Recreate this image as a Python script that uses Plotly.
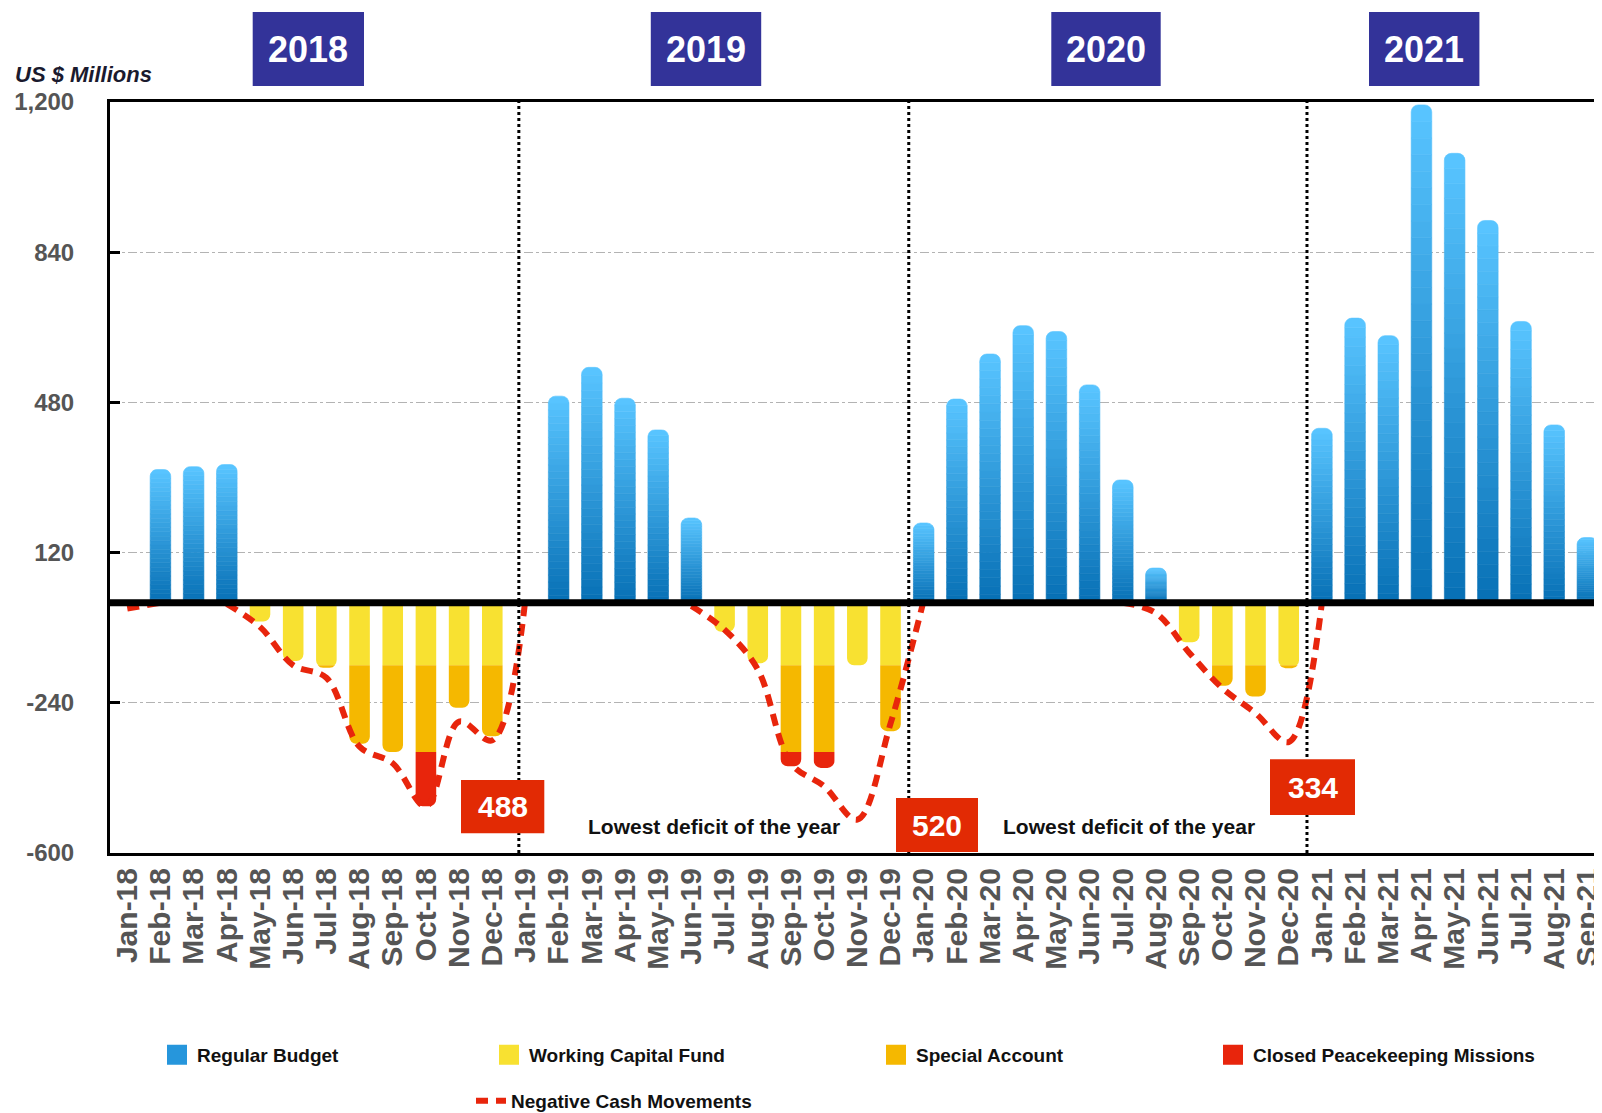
import plotly.graph_objects as go

# ---------------- data ----------------
months = ["Jan-18", "Feb-18", "Mar-18", "Apr-18", "May-18", "Jun-18", "Jul-18", "Aug-18", "Sep-18", "Oct-18", "Nov-18", "Dec-18",
          "Jan-19", "Feb-19", "Mar-19", "Apr-19", "May-19", "Jun-19", "Jul-19", "Aug-19", "Sep-19", "Oct-19", "Nov-19", "Dec-19",
          "Jan-20", "Feb-20", "Mar-20", "Apr-20", "May-20", "Jun-20", "Jul-20", "Aug-20", "Sep-20", "Oct-20", "Nov-20", "Dec-20",
          "Jan-21", "Feb-21", "Mar-21", "Apr-21", "May-21", "Jun-21", "Jul-21", "Aug-21", "Sep-21"]

regular_budget = [0, 319, 326, 331, 0, 0, 0, 0, 0, 0, 0, 0,
                  0, 495, 564, 490, 414, 203, 0, 0, 0, 0, 0, 0,
                  191, 488, 596, 664, 650, 522, 294, 83, 0, 0, 0, 0,
                  418, 682, 640, 1193, 1077, 916, 674, 426, 156]

working_capital_fund = [-8, 0, 0, 0, -45, -140, -150, -150, -150, -150, -150, -150,
                        0, 0, 0, 0, 0, 0, -70, -145, -150, -150, -150, -150,
                        0, 0, 0, 0, 0, 0, 0, 0, -95, -150, -150, -150,
                        0, 0, 0, 0, 0, 0, 0, 0, 0]

special_account = [0, 0, 0, 0, 0, 0, -6, -188, -208, -208, -102, -170,
                   0, 0, 0, 0, 0, 0, 0, 0, -208, -208, 0, -158,
                   0, 0, 0, 0, 0, 0, 0, 0, 0, -49, -75, -7,
                   0, 0, 0, 0, 0, 0, 0, 0, 0]

closed_peacekeeping = [0, 0, 0, 0, 0, 0, 0, 0, 0, -130, 0, 0,
                       0, 0, 0, 0, 0, 0, 0, 0, -34, -38, 0, 0,
                       0, 0, 0, 0, 0, 0, 0, 0, 0, 0, 0, 0,
                       0, 0, 0, 0, 0, 0, 0, 0, 0]

negative_cash = [-14, 0, None, -3, -58, -150, -180, -345, -385, -488, -285, -330,
                 10, None, None, None, None, -8, -65, -160, -385, -440, -520, -290,
                 5, None, None, None, None, None, 0, -25, -120, -205, -265, -334,
                 0, None, None, None, None, None, None, None, None]

years = ["2018", "2019", "2020", "2021"]
lowest_deficits = ["488", "520", "334"]
y_tick_vals = [-600, -240, 120, 480, 840, 1200]
y_tick_text = ["-600", "-240", "120", "480", "840", "1,200"]

# ---------------- layout helpers ----------------
# the page body has an 8px margin, so the figure is drawn 8px smaller and
# all page positions below are converted to plot-paper fractions
OFF = 8
W, H = 1602 - OFF, 1113 - OFF
PLOT_L, PLOT_R, PLOT_T, PLOT_B = 110, 1600, 102, 853      # plot area in page pixels
L, T = PLOT_L - OFF, PLOT_T - OFF
R = W - (PLOT_R - OFF)
B = H - (PLOT_B - OFF)
PW, PH = PLOT_R - PLOT_L, PLOT_B - PLOT_T


def px(x):
    return (x - PLOT_L) / PW


def py(y):
    return (PLOT_B - y) / PH


FONT = "Liberation Sans, Arial, sans-serif"
BLUE_DARK = (8, 113, 182)
BLUE_LIGHT = (88, 196, 255)
BLUE_MID = "rgb(38,150,220)"
YELLOW = "#f8e131"
ORANGE = "#f5b800"
RED = "#e8250c"

fig = go.Figure()

# Regular budget bars drawn as stacked colour bands to give a vertical gradient
N_BANDS = 30
for i in range(N_BANDS):
    t = i / (N_BANDS - 1)
    c = tuple(round(BLUE_DARK[k] + (BLUE_LIGHT[k] - BLUE_DARK[k]) * t) for k in range(3))
    col = "rgb(%d,%d,%d)" % c
    fig.add_bar(
        x=months, y=[v / N_BANDS for v in regular_budget],
        name="Regular Budget", legendgroup="rb", showlegend=False,
        marker=dict(color=col, line=dict(width=0.6, color=col)),
        hoverinfo="skip",
    )

fig.add_bar(x=months, y=working_capital_fund, name="Working Capital Fund", legendgroup="wcf",
            showlegend=False, marker=dict(color=YELLOW, line=dict(width=0)))
fig.add_bar(x=months, y=special_account, name="Special Account", legendgroup="sa",
            showlegend=False, marker=dict(color=ORANGE, line=dict(width=0)))
fig.add_bar(x=months, y=closed_peacekeeping, name="Closed Peacekeeping Missions", legendgroup="cpm",
            showlegend=False, marker=dict(color=RED, line=dict(width=0)))

fig.add_scatter(x=months, y=negative_cash, mode="lines", name="Negative Cash Movements", legend="legend5",
                line=dict(color=RED, width=6, dash="12px,8px", shape="spline", smoothing=1.0),
                connectgaps=False)

# legend swatches (square keys like the reference)
for name, grp, col, leg in (("Regular Budget", "rb", BLUE_MID, "legend"),
                            ("Working Capital Fund", "wcf", YELLOW, "legend2"),
                            ("Special Account", "sa", ORANGE, "legend3"),
                            ("Closed Peacekeeping Missions", "cpm", RED, "legend4")):
    fig.add_scatter(x=[None], y=[None], mode="markers", name=name, legendgroup=grp, legend=leg,
                    marker=dict(symbol="square", size=16, color=col, line=dict(width=4, color=col)),
                    hoverinfo="skip")

shapes = []
# year dividers
for xv in (11.8, 23.55, 35.55):
    shapes.append(dict(type="line", xref="x", yref="paper", x0=xv, x1=xv, y0=0, y1=1,
                       line=dict(color="black", width=3, dash="dot"), layer="above"))
# zero line
shapes.append(dict(type="line", xref="paper", yref="y", x0=0, x1=1, y0=0, y1=0,
                   line=dict(color="black", width=7), layer="above"))

annotations = []
# year boxes
year_boxes = [(252.7, 364), (650.8, 761.2), (1051.3, 1160.7), (1369, 1479.4)]
for yr, (x0, x1) in zip(years, year_boxes):
    shapes.append(dict(type="rect", xref="paper", yref="paper", x0=px(x0), x1=px(x1), y0=py(86), y1=py(12),
                       fillcolor="#333399", line=dict(width=0), layer="above"))
    annotations.append(dict(text=yr, xref="paper", yref="paper", x=px((x0 + x1) / 2), y=py(49),
                            showarrow=False, xanchor="center", yanchor="middle",
                            font=dict(family=FONT, size=36, color="white", weight="bold")))

# lowest deficit boxes
deficit_boxes = [(461, 544.3, 780, 833.3), (896, 978, 798, 852), (1270, 1355, 759.3, 815)]
for txt, (x0, x1, y0, y1) in zip(lowest_deficits, deficit_boxes):
    shapes.append(dict(type="rect", xref="paper", yref="paper", x0=px(x0), x1=px(x1), y0=py(y1), y1=py(y0),
                       fillcolor="#e22a04", line=dict(width=0), layer="above"))
    annotations.append(dict(text=txt, xref="paper", yref="paper", x=px((x0 + x1) / 2), y=py((y0 + y1) / 2),
                            showarrow=False, xanchor="center", yanchor="middle",
                            font=dict(family=FONT, size=30, color="white", weight="bold")))

for cx in (713.5, 1129):
    annotations.append(dict(text="Lowest deficit of the year", xref="paper", yref="paper", x=px(cx), y=py(826),
                            showarrow=False, xanchor="center", yanchor="middle",
                            font=dict(family=FONT, size=21, color="#111111", weight="bold")))

annotations.append(dict(text="<i>US $ Millions</i>", xref="paper", yref="paper", x=px(13), y=py(75),
                        showarrow=False, xanchor="left", yanchor="middle",
                        font=dict(family=FONT, size=22, color="#1a1a2e", weight="bold")))

leg_font = dict(family=FONT, size=19, color="#111111", weight="bold")
leg_common = dict(orientation="h", xanchor="left", yanchor="middle", font=leg_font,
                  bgcolor="rgba(0,0,0,0)", borderwidth=0, itemsizing="trace")

fig.update_layout(
    width=W, height=H,
    margin=dict(l=L, r=R, t=T, b=B, autoexpand=False),
    paper_bgcolor="white", plot_bgcolor="white",
    barmode="relative", bargap=0.38, barcornerradius=7,
    font=dict(family=FONT),
    shapes=shapes, annotations=annotations,
    legend=dict(x=px(157), y=py(1055), **leg_common),
    legend2=dict(x=px(489), y=py(1055), **leg_common),
    legend3=dict(x=px(876), y=py(1055), **leg_common),
    legend4=dict(x=px(1213), y=py(1055), **leg_common),
    legend5=dict(x=px(471), y=py(1101), **leg_common),
    xaxis=dict(type="category", range=[-0.52, 44.38], tickangle=-90, showgrid=False,
               tickmode="array", tickvals=months, ticktext=months,
               showline=True, mirror=True, linecolor="black", linewidth=3, ticks="",
               tickfont=dict(family=FONT, size=30, color="#555555", weight="bold"),
               ticklabelstandoff=0, automargin=False),
    yaxis=dict(range=[-600, 1200], tickvals=y_tick_vals, ticktext=y_tick_text,
               showgrid=True, gridcolor="#b3b3b3", gridwidth=1, griddash="dashdot", zeroline=False,
               showline=True, mirror=True, linecolor="black", linewidth=3,
               ticks="inside", ticklen=10, tickwidth=3, tickcolor="black",
               tickfont=dict(family=FONT, size=24, color="#555555", weight="bold"),
               ticklabelstandoff=28, automargin=False),
)

fig.write_html("out.html")
